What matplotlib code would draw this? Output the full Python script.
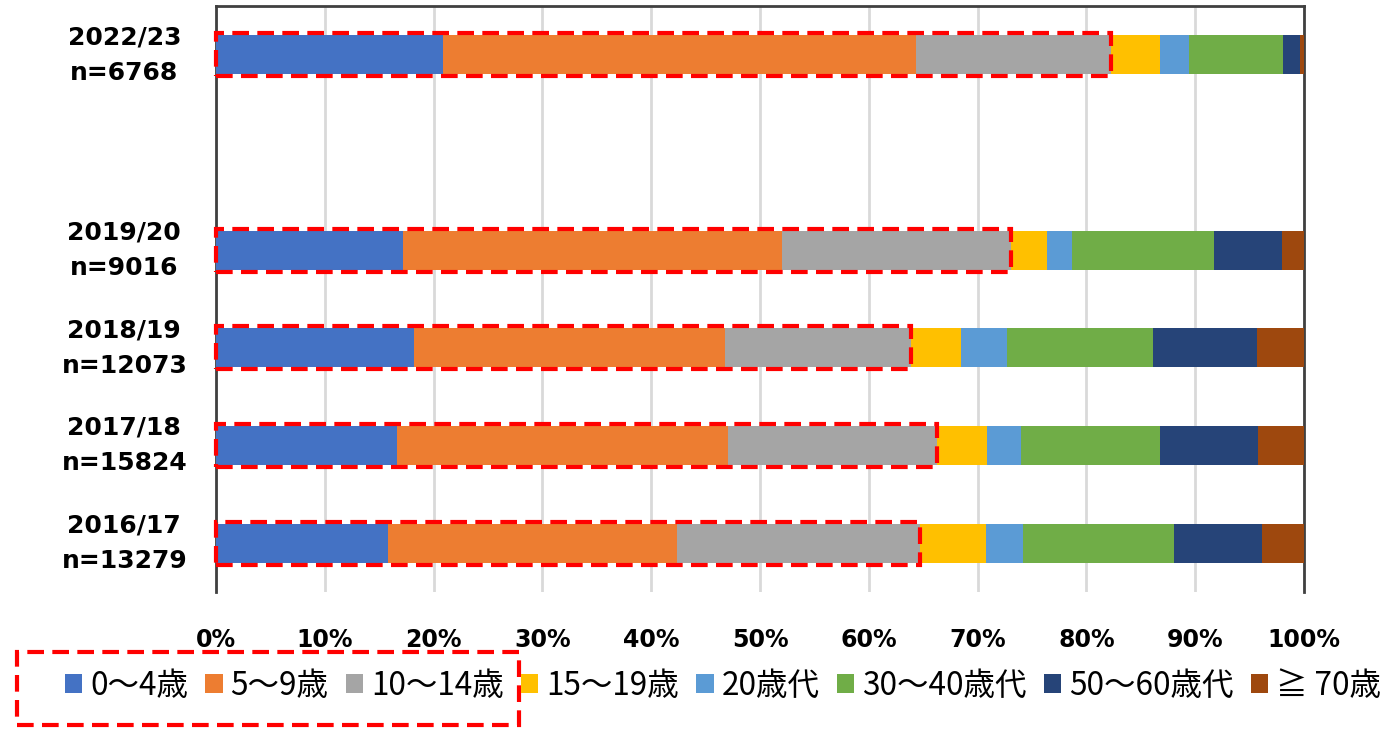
import numpy as np
import matplotlib
matplotlib.use("Agg")
import matplotlib.pyplot as plt
from matplotlib.patches import Rectangle

plt.rcParams['font.family'] = ['Noto Sans CJK JP', 'DejaVu Sans']

# Season labels (bottom to top); an empty slot separates the latest season
categories = ["2016/17\nn=13279", "2017/18\nn=15824", "2018/19\nn=12073",
              "2019/20\nn=9016", "", "2022/23\nn=6768"]

age_groups = ["0～4歳", "5～9歳", "10～14歳", "15～19歳", "20歳代",
              "30～40歳代", "50～60歳代", "≧ 70歳"]

# Share of cases (%) per age group, per season (nan = no data)
nan = np.nan
age_0_4   = [15.8, 16.6, 18.2, 17.2, nan, 20.9]
age_5_9   = [26.55, 30.5, 28.55, 34.8, nan, 43.4]
age_10_14 = [22.35, 19.2, 17.1, 21.1, nan, 18.0]
age_15_19 = [6.05, 4.6, 4.6, 3.3, nan, 4.5]
age_20s   = [3.4, 3.1, 4.25, 2.3, nan, 2.6]
age_30_40 = [13.9, 12.75, 13.4, 13.0, nan, 8.7]
age_50_60 = [8.1, 9.05, 9.55, 6.25, nan, 1.5]
age_70up  = [3.85, 4.2, 4.35, 2.05, nan, 0.4]

series = [age_0_4, age_5_9, age_10_14, age_15_19, age_20s,
          age_30_40, age_50_60, age_70up]
colors = ["#4472C4", "#ED7D31", "#A5A5A5", "#FFC000", "#5B9BD5",
          "#70AD47", "#264478", "#9E480E"]

fig = plt.figure(figsize=(13.89, 7.29), dpi=100)
ax = fig.add_axes([216 / 1389, 1 - 592 / 729, 1088 / 1389, 586 / 729])

y = np.arange(len(categories))
bar_h = 0.4
left = np.zeros(len(categories))
for vals, col, name in zip(series, colors, age_groups):
    v = np.array(vals, dtype=float)
    mask = ~np.isnan(v)
    ax.barh(y[mask], v[mask], left=left[mask], height=bar_h, color=col,
            edgecolor="none", label=name, zorder=3)
    left[mask] += v[mask]

# Dashed red frame around the children's share (0-14 years) of each bar
child = np.array(age_0_4) + np.array(age_5_9) + np.array(age_10_14)
for yi, c in zip(y, child):
    if np.isnan(c):
        continue
    ax.add_patch(Rectangle((0, yi - 0.22), c, 0.44, fill=False,
                           edgecolor="#FF0000", linewidth=3,
                           linestyle=(0, (4, 2)), zorder=5, clip_on=False))

ax.set_xlim(0, 100)
ax.set_ylim(-0.5, len(categories) - 0.5)
ax.set_xticks(np.arange(0, 101, 10))
ax.set_xticklabels([f"{t}%" for t in range(0, 101, 10)],
                   fontsize=17, fontweight="bold", family="DejaVu Sans")
ax.set_yticks(y)
ax.set_yticklabels(categories, fontsize=18, fontweight="bold",
                   family="DejaVu Sans", ha="center", linespacing=1.6,
                   va="center")
ax.tick_params(axis="x", length=0, pad=26)
ax.tick_params(axis="y", length=0, pad=66)

ax.grid(axis="x", color="#D9D9D9", linewidth=2, zorder=0)
ax.set_axisbelow(True)
for side in ["left", "right", "top", "bottom"]:
    ax.spines[side].set_color("#404040")
    ax.spines[side].set_linewidth(2)
ax.spines["bottom"].set_visible(False)

leg = fig.legend(loc="center", bbox_to_anchor=(723 / 1389, 1 - 686 / 729),
                 ncol=8, frameon=False, fontsize=22.7, handlelength=0.55,
                 handleheight=0.55, handletextpad=0.25, columnspacing=0.55)

# Dashed frame highlighting the children's age groups in the legend
fig.patches.append(Rectangle((17 / 1389, 1 - 725 / 729), 502 / 1389, 73 / 729,
                             transform=fig.transFigure, fill=False,
                             edgecolor="#FF0000", linewidth=3,
                             linestyle=(0, (4, 2)), zorder=5))

fig.savefig("out.png", dpi=100)
